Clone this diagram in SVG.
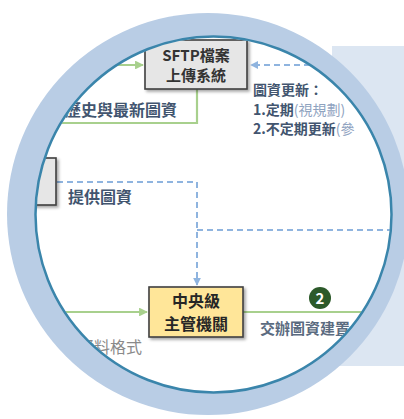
<svg xmlns="http://www.w3.org/2000/svg" width="404" height="419" viewBox="0 0 404 419">
<style>
.t{font-family:"Noto Sans CJK TC","Noto Sans CJK SC",sans-serif;font-weight:700}
.box{stroke:#404040;stroke-width:1.6}
.g{fill:none;stroke:#a8d08d;stroke-width:2.2}
.b{fill:none;stroke:#8fb4df;stroke-width:2;stroke-dasharray:6 4}
.lab{fill:#42556f}
</style>
<defs>
<clipPath id="lens"><circle cx="213.5" cy="214.5" r="177"/></clipPath>
<filter id="sh" x="-20%" y="-20%" width="150%" height="150%"><feDropShadow dx="2" dy="2" stdDeviation="1.5" flood-color="#000" flood-opacity="0.35"/></filter>
<marker id="ag" viewBox="0 0 10 10" refX="9" refY="5" markerWidth="4" markerHeight="4" orient="auto"><path d="M0 0L10 5L0 10z" fill="#a8d08d"/></marker>
<marker id="ab" viewBox="0 0 10 10" refX="9" refY="5" markerWidth="4" markerHeight="4" orient="auto"><path d="M0 0L10 5L0 10z" fill="#8fb4df"/></marker>
</defs>
<rect width="404" height="419" fill="#fff"/>
<rect x="332" y="46" width="72" height="320" fill="#dce6f2"/>
<circle cx="208" cy="214" r="201" fill="#b9cde5"/>
<circle cx="213.5" cy="214.5" r="178" fill="#fff"/>
<g clip-path="url(#lens)">
<g id="connectors">
<path class="g" d="M30 65H143" marker-end="url(#ag)"/>
<path class="g" d="M197 89V123H30"/>
<path class="b" d="M400 65H251" marker-end="url(#ab)"/>
<path class="b" d="M57 182H197V285" marker-end="url(#ab)"/>
<path class="b" d="M197 230H400"/>
<path class="g" d="M30 312H147" marker-end="url(#ag)"/>
<path class="g" d="M243 312H400"/>
</g>
<g id="sftp">
<rect class="box" x="145" y="40" width="102" height="49" fill="#e6e6e6" filter="url(#sh)"/>
<text class="t" x="196" y="61" font-size="15" fill="#333" text-anchor="middle">SFTP檔案</text>
<text class="t" x="196" y="81" font-size="15" fill="#333" text-anchor="middle">上傳系統</text>
</g>
<g id="left-node">
<rect class="box" x="-10" y="158" width="66" height="47" fill="#e6e6e6" filter="url(#sh)"/>
</g>
<g id="central">
<rect class="box" x="149" y="287" width="94" height="50" fill="#ffe699" filter="url(#sh)"/>
<text class="t" x="196" y="307" font-size="16" fill="#262626" text-anchor="middle">中央級</text>
<text class="t" x="196" y="330" font-size="16" fill="#262626" text-anchor="middle">主管機關</text>
</g>
<g id="step2">
<circle cx="320" cy="298" r="11" fill="#2c5a2a"/>
<text class="t" x="320" y="304" font-size="15" fill="#fff" text-anchor="middle">2</text>
</g>
<g id="labels">
<text class="t lab" x="177" y="116" font-size="16" text-anchor="end">歷史與最新圖資</text>
<text class="t lab" x="253" y="95" font-size="14">圖資更新：</text>
<text class="t lab" x="253" y="115" font-size="14">1.定期<tspan fill="#8fa3bf" font-weight="400">(視規劃)</tspan></text>
<text class="t lab" x="253" y="134" font-size="14">2.不定期更新<tspan fill="#8fa3bf" font-weight="400">(參</tspan></text>
<text class="t lab" x="68" y="203" font-size="16">提供圖資</text>
<text class="t" x="260" y="334" font-size="15" fill="#5b6b80">交辦圖資建置</text>
<text x="142" y="353" font-size="16" fill="#8a8a8a" text-anchor="end" style="font-family:'Noto Sans CJK TC','Noto Sans CJK SC',sans-serif;font-weight:400">資料格式</text>
</g>
</g>
<circle cx="213.5" cy="214.5" r="178" fill="none" stroke="#3a85ab" stroke-width="2.5"/>
</svg>
